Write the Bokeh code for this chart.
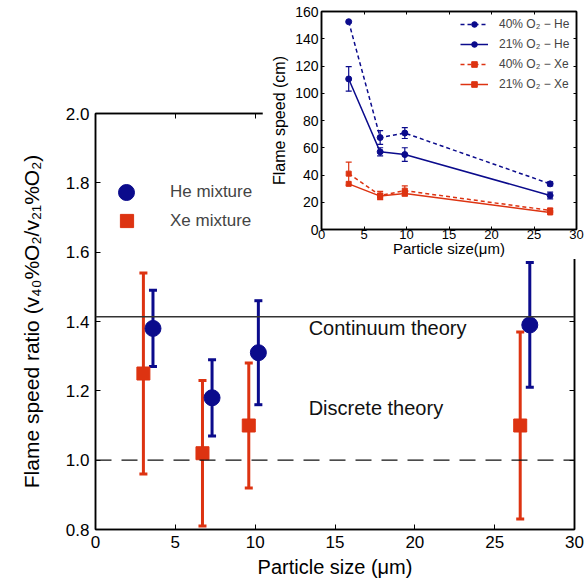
from bokeh.plotting import figure
from bokeh.models import (ColumnDataSource, Whisker, TeeHead, Span, Label, Legend, LegendItem,
                          LinearAxis, FixedTicker, PrintfTickFormatter, CustomJSTickFormatter)
from bokeh.embed import file_html
from bokeh.resources import INLINE

# ---------------- data: main chart (flame speed ratio) ----------------
he_size = [3.6, 7.3, 10.2, 27.2]
he_ratio = [1.38, 1.18, 1.31, 1.39]
he_low = [1.27, 1.07, 1.16, 1.21]
he_high = [1.49, 1.29, 1.46, 1.57]

xe_size = [3.0, 6.7, 9.6, 26.6]
xe_ratio = [1.25, 1.02, 1.10, 1.10]
xe_low = [0.96, 0.81, 0.92, 0.83]
xe_high = [1.54, 1.23, 1.28, 1.37]

continuum_ratio = 1.414
discrete_ratio = 1.0

main_x_ticks = [0, 5, 10, 15, 20, 25, 30]
main_y_ticks = [0.8, 1.0, 1.2, 1.4, 1.6, 1.8, 2.0]

# ---------------- data: inset (flame speed) ----------------
inset_size = [3.2, 6.9, 9.8, 26.9]
he40_speed = [152.5, 67.5, 70.8, 33.5]
he40_err = [0, 5, 4, 1.5]
he21_speed = [110.5, 57.0, 55.0, 25.0]
he21_err = [9, 3, 5, 2.5]
xe40_speed = [41.0, 25.0, 28.5, 14.0]
xe40_err = [8.5, 3, 3.5, 1.5]
xe21_speed = [33.5, 24.5, 26.5, 12.5]
xe21_err = [0, 2, 2, 1]

inset_x_ticks = [0, 5, 10, 15, 20, 25, 30]
inset_y_ticks = [0, 20, 40, 60, 80, 100, 120, 140, 160]

BLUE = "#0b0b8c"
RED = "#dd3311"
FONT = "Liberation Sans"

# ================= main figure =================
p = figure(width=585, height=585, x_range=(0, 30), y_range=(0.8, 2.0),
           output_backend="svg", toolbar_location=None,
           min_border_left=95, min_border_right=11, min_border_top=113, min_border_bottom=56)
p.grid.visible = False
p.outline_line_color = "black"
p.outline_line_width = 1.5
p.background_fill_color = "white"
p.border_fill_color = "white"

def style_axis(ax, ticks, font_size, tick_len, labels=True, standoff=5):
    ax.ticker = FixedTicker(ticks=ticks, minor_ticks=[])
    ax.major_tick_in = tick_len
    ax.major_tick_out = 0
    ax.minor_tick_line_color = None
    ax.axis_line_color = "black"
    ax.axis_line_width = 1.5
    ax.major_tick_line_color = "black"
    ax.major_tick_line_width = 1
    ax.major_label_text_font = FONT
    ax.major_label_text_font_size = font_size
    ax.major_label_text_color = "black"
    ax.major_label_standoff = standoff
    ax.axis_label_text_font = FONT
    ax.axis_label_text_font_style = "normal"
    ax.axis_label_text_color = "black"
    if not labels:
        ax.formatter = CustomJSTickFormatter(code="return ''")
        ax.major_label_standoff = 0

xa = p.xaxis[0]
ya = p.yaxis[0]
style_axis(xa, main_x_ticks, "17px", 5, standoff=6)
style_axis(ya, main_y_ticks, "17px", 5, standoff=6)
ya.formatter = PrintfTickFormatter(format="%.1f")
xa.axis_label = "Particle size (μm)"
xa.axis_label_text_font_size = "20px"
xa.axis_label_standoff = 5
ya.axis_label = "Flame speed ratio (v₄₀%O₂/v₂₁%O₂)"
ya.axis_label_text_font_size = "21px"
ya.axis_label_standoff = 20

top_ax = LinearAxis()
style_axis(top_ax, main_x_ticks, "17px", 5, labels=False)
p.add_layout(top_ax, "above")
right_ax = LinearAxis()
style_axis(right_ax, main_y_ticks, "17px", 5, labels=False)
p.add_layout(right_ax, "right")

# theory lines
p.add_layout(Span(location=continuum_ratio, dimension="width", line_color="#333333", line_width=1.5))
p.add_layout(Span(location=discrete_ratio, dimension="width", line_color="#111111", line_width=1.2,
                  line_dash="16 10"))
p.add_layout(Label(x=13.35, y=1.38, text="Continuum theory", text_font=FONT, text_font_size="20px",
                   text_baseline="middle", text_align="left", text_color="#111111"))
p.add_layout(Label(x=13.35, y=1.15, text="Discrete theory", text_font=FONT, text_font_size="20px",
                   text_baseline="middle", text_align="left", text_color="#111111"))

he_src = ColumnDataSource(dict(x=he_size, y=he_ratio, lo=he_low, hi=he_high))
xe_src = ColumnDataSource(dict(x=xe_size, y=xe_ratio, lo=xe_low, hi=xe_high))

for src, col in ((xe_src, RED), (he_src, BLUE)):
    p.add_layout(Whisker(source=src, base="x", upper="hi", lower="lo", dimension="height",
                         line_color=col, line_width=3,
                         upper_head=TeeHead(size=8, line_color=col, line_width=3),
                         lower_head=TeeHead(size=8, line_color=col, line_width=3)))

xe_r = p.scatter("x", "y", source=xe_src, marker="square", size=13, fill_color=RED, line_color=RED)
he_r = p.scatter("x", "y", source=he_src, marker="circle", size=16, fill_color=BLUE, line_color=BLUE)

leg_he = Legend(items=[LegendItem(label="He mixture", renderers=[he_r])], location=(11, 317),
                glyph_width=40, glyph_height=40, label_standoff=24, padding=0, margin=0,
                border_line_color=None, background_fill_alpha=0,
                label_text_font=FONT, label_text_font_size="17px")
leg_xe = Legend(items=[LegendItem(label="Xe mixture", renderers=[xe_r])], location=(15, 292),
                glyph_width=33, glyph_height=33, label_standoff=27, padding=0, margin=0,
                border_line_color=None, background_fill_alpha=0,
                label_text_font=FONT, label_text_font_size="17px")
p.add_layout(leg_he)
p.add_layout(leg_xe)

# ================= inset figure =================
q = figure(frame_width=255, frame_height=218, x_range=(0, 30), y_range=(0, 160),
           output_backend="svg", toolbar_location=None,
           min_border_left=59, min_border_right=9, min_border_top=11, min_border_bottom=26)
q.grid.visible = False
q.outline_line_color = "black"
q.outline_line_width = 1.5
q.background_fill_color = "white"
q.border_fill_color = "white"

qx = q.xaxis[0]
qy = q.yaxis[0]
style_axis(qx, inset_x_ticks, "13px", 3, standoff=0)
style_axis(qy, inset_y_ticks, "14px", 3, standoff=3)
qx.axis_label = "Particle size(μm)"
qx.axis_label_text_font_size = "15px"
qx.axis_label_standoff = -2
qy.axis_label = "Flame speed (cm)"
qy.axis_label_text_font_size = "16px"
qy.axis_label_standoff = 4
q_top = LinearAxis()
style_axis(q_top, inset_x_ticks, "14px", 3, labels=False)
q.add_layout(q_top, "above")
q_right = LinearAxis()
style_axis(q_right, inset_y_ticks, "14px", 3, labels=False)
q.add_layout(q_right, "right")

series = [
    ("40% O₂ − He", he40_speed, he40_err, BLUE, "4 3", "circle", 6),
    ("21% O₂ − He", he21_speed, he21_err, BLUE, "solid", "circle", 6),
    ("40% O₂ − Xe", xe40_speed, xe40_err, RED, "4 3", "square", 5),
    ("21% O₂ − Xe", xe21_speed, xe21_err, RED, "solid", "square", 5),
]
items = []
for label, ys, errs, col, dash, marker, msize in series:
    src = ColumnDataSource(dict(x=inset_size, y=ys))
    wx = [xv for xv, e in zip(inset_size, errs) if e > 0]
    wlo = [yv - e for yv, e in zip(ys, errs) if e > 0]
    whi = [yv + e for yv, e in zip(ys, errs) if e > 0]
    wsrc = ColumnDataSource(dict(x=wx, lo=wlo, hi=whi))
    q.add_layout(Whisker(source=wsrc, base="x", upper="hi", lower="lo", dimension="height",
                         line_color=col, line_width=1.2,
                         upper_head=TeeHead(size=6, line_color=col, line_width=1.2),
                         lower_head=TeeHead(size=6, line_color=col, line_width=1.2)))
    lr = q.line("x", "y", source=src, line_color=col, line_width=1.5, line_dash=dash)
    sr = q.scatter("x", "y", source=src, marker=marker, size=msize, fill_color=col, line_color=col)
    items.append(LegendItem(label=label, renderers=[lr, sr]))

q_leg = Legend(items=items, location=(139, 138), glyph_width=28, glyph_height=14, spacing=6,
               label_standoff=11, padding=0, margin=0, border_line_color=None,
               background_fill_alpha=0, label_text_font=FONT, label_text_font_size="12px")
q.add_layout(q_leg)

q.styles = {"position": "absolute", "left": "262px", "top": "0px"}

open("out.html", "w").write(file_html([p, q], INLINE))
